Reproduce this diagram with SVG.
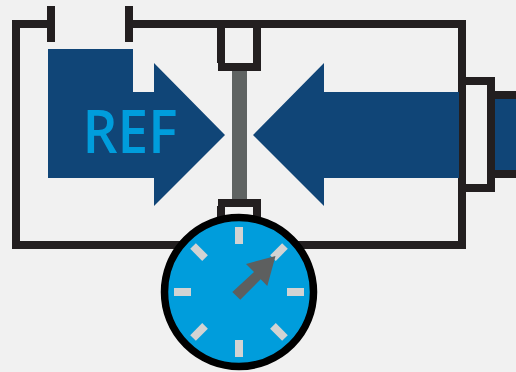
<svg xmlns="http://www.w3.org/2000/svg" width="516" height="372" viewBox="0 0 516 372">
<style>
.k{fill:#231f20}
.b{fill:#104577}
.t{stroke:#d2d3d3;stroke-width:8;fill:none}
</style>
<rect width="516" height="372" fill="#f1f1f1"/>
<g id="frame" class="k">
<path d="M12 20H47V6H55V42H47V28H20V241H458V28H133V42H125V6H133V20H466V77H495V91H516V99H495V170H516V178H495V192H466V249H12Z"/>
<path d="M466 85V184H487V85Z" fill="#f1f1f1"/>
</g>
<g id="top-clamp" class="k">
<path d="M217 28H225V63H253V28H261V71H218V63H217Z"/>
</g>
<rect id="rod" x="232" y="71" width="15" height="135" fill="#5f6362"/>
<g id="bottom-clamp" class="k">
<path d="M218 199H261V222H253V207H225V222H217V206H218Z"/>
</g>
<g id="ref-arrow">
<path class="b" d="M48 49H133V92H154V63L225 135L154 206V178H48Z"/>
<text x="82.5" y="152.5" font-family="'Open Sans','Noto Sans',sans-serif" font-size="60" font-weight="600" fill="#009ddc" textLength="95" lengthAdjust="spacingAndGlyphs">REF</text>
</g>
<path id="right-arrow" class="b" d="M253 135L324 63V92H459V178H324V206Z"/>
<rect id="right-block" class="b" x="495" y="99" width="21" height="71"/>
<g id="gauge">
<circle cx="239" cy="292" r="74.5" fill="#009ddc" stroke="#000" stroke-width="7.5"/>
<g transform="translate(239 292)">
<path class="t" d="M0 -48V-65"/>
<path class="t" transform="rotate(45)" d="M0 -48V-65"/>
<path class="t" transform="rotate(90)" d="M0 -48V-65"/>
<path class="t" transform="rotate(135)" d="M0 -48V-65"/>
<path class="t" transform="rotate(180)" d="M0 -48V-65"/>
<path class="t" transform="rotate(225)" d="M0 -48V-65"/>
<path class="t" transform="rotate(270)" d="M0 -48V-65"/>
<path class="t" transform="rotate(315)" d="M0 -48V-65"/>
</g>
<path fill="#5d5f5f" d="M275.5 256L246 264L254 272L232.3 292L240.3 299.7L260.7 279.3L267.3 286Z"/>
</g>
</svg>
